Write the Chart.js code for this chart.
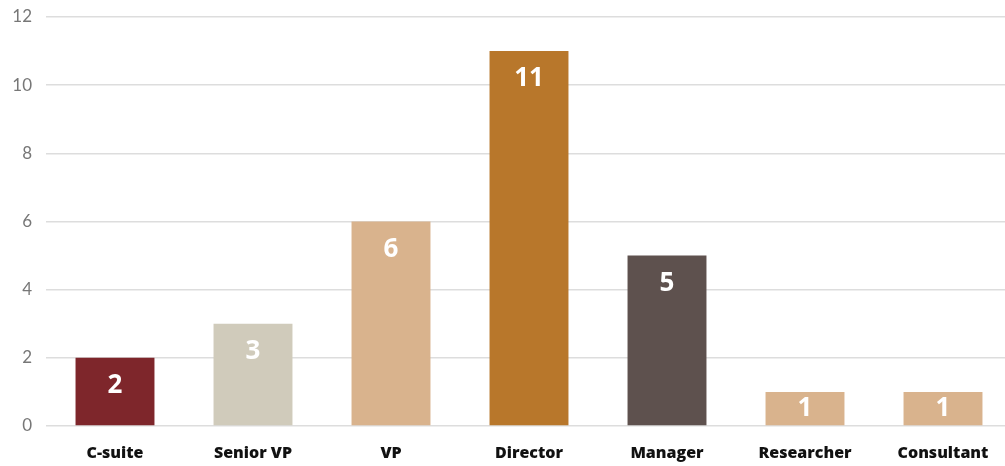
<!DOCTYPE html>
<html>
<head>
<meta charset="utf-8">
<script src="https://cdn.jsdelivr.net/npm/chart.js@4"></script>
<style>
  html, body { margin: 0; padding: 0; background: #fff; overflow: hidden; }
  #wrap { width: 1012px; height: 466px; }
</style>
</head>
<body>
<div id="wrap"><canvas id="myChart"></canvas></div>
<script>
// ******* DATA *******
let categories = ['C-suite', 'Senior VP', 'VP', 'Director', 'Manager', 'Researcher', 'Consultant'];
let counts = [2, 3, 6, 11, 5, 1, 1];
let barColors = ['#7e262b', '#d0cbbb', '#d9b38d', '#b8772b', '#5e514e', '#d9b38d', '#d9b38d'];
let yTicks = [0, 2, 4, 6, 8, 10, 12];

// ******* LABELS INSIDE BARS *******
let barLabels = {
  id: 'barLabels',
  afterDatasetsDraw(chart) {
    let ctx = chart.ctx;
    let meta = chart.getDatasetMeta(0);
    ctx.save();
    ctx.fillStyle = '#ffffff';
    ctx.font = '700 26px "Open Sans"';
    ctx.textAlign = 'center';
    ctx.textBaseline = 'middle';
    meta.data.forEach(function (bar, i) {
      let y = Math.min(bar.y + 28, (bar.y + bar.base) / 2);
      ctx.fillText(String(counts[i]), bar.x, y);
    });
    ctx.restore();
  }
};

const ctx = document.getElementById('myChart').getContext('2d');
const myChart = new Chart(ctx, {
  type: 'bar',
  data: {
    labels: categories,
    datasets: [{
      data: counts,
      backgroundColor: barColors,
      borderWidth: 0,
      categoryPercentage: 1,
      barPercentage: 0.572
    }]
  },
  options: {
    responsive: true,
    maintainAspectRatio: false,
    animation: false,
    layout: { padding: { top: 17, right: 0, left: 0, bottom: 0 } },
    plugins: {
      legend: { display: false },
      tooltip: { enabled: false }
    },
    scales: {
      x: {
        grid: { display: false },
        border: { display: false },
        ticks: {
          color: '#111',
          font: { family: 'Open Sans', size: 16, weight: 800 },
          padding: 10
        },
        afterFit(scale) { scale.height = 40; }
      },
      y: {
        min: 0,
        max: 12,
        afterBuildTicks(scale) {
          scale.ticks = yTicks.map(v => ({ value: v }));
        },
        grid: { color: '#dddddd', lineWidth: 1.5, drawTicks: false },
        border: { display: false },
        ticks: {
          color: '#777',
          font: { family: 'Lato', size: 17 },
          padding: 14
        },
        afterFit(scale) {
          scale.width = 46;
          scale.paddingTop = 0;
          scale.paddingBottom = 0;
        }
      }
    }
  },
  plugins: [barLabels]
});
</script>
</body>
</html>
